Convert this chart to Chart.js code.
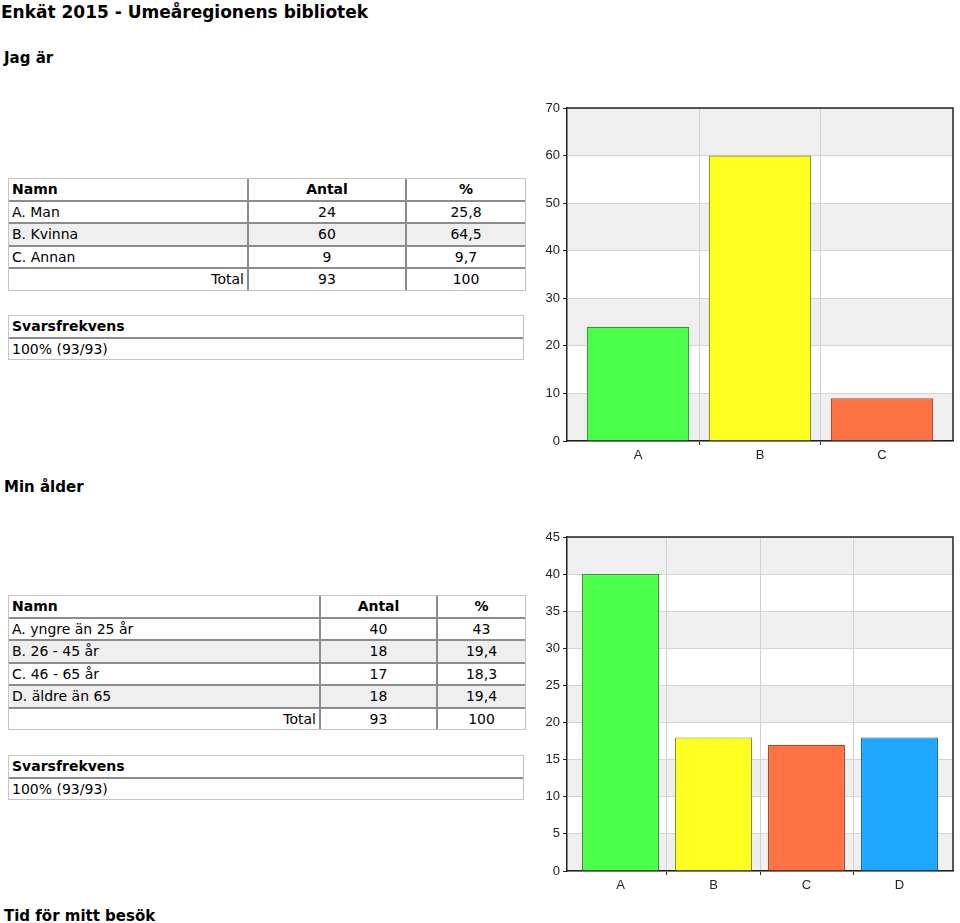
<!DOCTYPE html>
<html>
<head>
<meta charset="utf-8">
<script src="https://cdn.jsdelivr.net/npm/chart.js@4"></script>
<style>
  body { margin: 0; background: #fff; font-family: "DejaVu Sans", Verdana, sans-serif; color: #000; width: 960px; height: 923px; position: relative; overflow: hidden; }
  .h1 { position: absolute; left: 1px; top: 1px; font-size: 17px; font-weight: bold; line-height: 22px; white-space: nowrap; }
  .h2 { position: absolute; left: 4px; font-size: 15px; font-weight: bold; line-height: 18px; white-space: nowrap; }
  table { position: absolute; left: 8px; width: 516px; border-collapse: separate; border-spacing: 0; border: 1px solid #c4c4c4; font-size: 14px; table-layout: fixed; }
  td { height: 20.5px; padding: 0 3px; border-right: 2px solid #8c8c8c; border-bottom: 2px solid #8c8c8c; white-space: nowrap; line-height: 20px; }
  td:last-child { border-right: none; }
  tr:last-child td { border-bottom: none; }
  .c { text-align: center; }
  .r { text-align: right; }
  .b { font-weight: bold; }
  .alt td { background: #efefef; }
  canvas { position: absolute; }
</style>
</head>
<body>
<div class="h1">Enkät 2015 - Umeåregionens bibliotek</div>
<div class="h2" style="top:49px">Jag är</div>
<table id="t1" style="top:178px"></table>
<table id="s1" style="top:315px"></table>
<div class="h2" style="top:478px">Min ålder</div>
<table id="t2" style="top:595px"></table>
<table id="s2" style="top:755px"></table>
<div class="h2" style="top:907px">Tid för mitt besök</div>

<canvas id="c1" width="430" height="375" style="left:530px; top:95px"></canvas>
<canvas id="c2" width="430" height="375" style="left:530px; top:525px"></canvas>

<script>
// Jag är
const cats1 = ["A", "B", "C"];
const names1 = ["A. Man", "B. Kvinna", "C. Annan"];
const counts1 = [24, 60, 9];
const pcts1 = ["25,8", "64,5", "9,7"];
const total1 = 93;
const ticks1 = { max: 70, step: 10 };

// Min ålder
const cats2 = ["A", "B", "C", "D"];
const names2 = ["A. yngre än 25 år", "B. 26 - 45 år", "C. 46 - 65 år", "D. äldre än 65"];
const counts2 = [40, 18, 17, 18];
const pcts2 = ["43", "19,4", "18,3", "19,4"];
const total2 = 93;
const ticks2 = { max: 45, step: 5 };

const svar = "100% (93/93)";

const fills = ["#4afe4a", "#fefe1f", "#fe7245", "#1fa6fe"];
const edges = ["#3b8e3b", "#8e8e25", "#95503a", "#22679a"];

function buildTable(el, names, counts, pcts, total, colW) {
  let h = `<colgroup>${colW.map(w => `<col style="width:${w}px">`).join("")}</colgroup>`;
  h += `<tr><td class="b">Namn</td><td class="c b">Antal</td><td class="c b">%</td></tr>`;
  names.forEach((n, i) => {
    h += `<tr${i % 2 ? ' class="alt"' : ""}><td>${n}</td><td class="c">${counts[i]}</td><td class="c">${pcts[i]}</td></tr>`;
  });
  h += `<tr><td class="r">Total</td><td class="c">${total}</td><td class="c">100</td></tr>`;
  document.getElementById(el).innerHTML = h;
}
function buildSvar(el) {
  document.getElementById(el).innerHTML = `<tr><td class="b">Svarsfrekvens</td></tr><tr><td>${svar}</td></tr>`;
}
buildTable("t1", names1, counts1, pcts1, total1, [240, 158, 118]);
buildTable("t2", names2, counts2, pcts2, total2, [312, 117, 87]);
buildSvar("s1");
buildSvar("s2");

// alternating bands behind the plot + frame on top/right
const bands = {
  id: "bands",
  beforeDraw(chart) {
    const { ctx, chartArea: a, scales: { y } } = chart;
    const step = chart.options.scales.y.ticks.stepSize;
    ctx.save();
    let i = 0;
    for (let v = 0; v < y.max; v += step, i++) {
      if (i % 2 === 0) {
        const top = y.getPixelForValue(v + step), bot = y.getPixelForValue(v);
        ctx.fillStyle = "#efefef";
        ctx.fillRect(a.left, top, a.right - a.left, bot - top);
      }
    }
    ctx.restore();
  },
  afterDraw(chart) {
    const { ctx, chartArea: a } = chart;
    ctx.save();
    ctx.strokeStyle = "#222";
    ctx.lineWidth = 1.5;
    ctx.beginPath();
    ctx.moveTo(a.left, a.top);
    ctx.lineTo(a.right, a.top);
    ctx.lineTo(a.right, a.bottom);
    ctx.stroke();
    ctx.restore();
  }
};

function makeChart(id, cats, counts, t, padTop, edgeMargin, barPct) {
  const n = cats.length;
  // only the lines between categories, not the outer ones
  const inner = (c, col) => (c.type !== "tick" || c.index === 0) ? "rgba(0,0,0,0)" : col;
  new Chart(document.getElementById(id), {
    type: "bar",
    data: {
      labels: cats,
      datasets: [{
        data: counts,
        backgroundColor: fills.slice(0, n),
        borderColor: edges.slice(0, n),
        borderWidth: 1.2,
        barPercentage: barPct,
        categoryPercentage: 1
      }]
    },
    options: {
      responsive: false,
      animation: false,
      layout: { padding: { top: padTop, right: 7, left: 0, bottom: 0 } },
      plugins: { legend: { display: false }, tooltip: { enabled: false } },
      scales: {
        x: {
          afterFit(s) { s.height = 29; },
          // small outer margin before the first and after the last category
          afterBuildTicks(s) { s._startValue -= edgeMargin; s._valueRange += 2 * edgeMargin; },
          grid: {
            color: c => inner(c, "#d0d0d0"), lineWidth: 1,
            tickColor: c => inner(c, "#222"), tickLength: 4
          },
          border: { color: "#222", width: 1.5 },
          ticks: { color: "#222", padding: 3, font: { family: "Liberation Sans", size: 13 } }
        },
        y: {
          min: 0, max: t.max,
          afterFit(s) { s.width = 37; },
          grid: { color: "#d4d4d4", lineWidth: 1, tickColor: "#222", tickLength: 4 },
          border: { color: "#222", width: 1.5 },
          ticks: { stepSize: t.step, color: "#222", padding: 3, font: { family: "Liberation Sans", size: 13 } }
        }
      }
    },
    plugins: [bands]
  });
}

makeChart("c1", cats1, counts1, ticks1, 13, 0.082, 0.84);
makeChart("c2", cats2, counts2, ticks2, 12, 0.075, 0.83);
</script>
</body>
</html>
